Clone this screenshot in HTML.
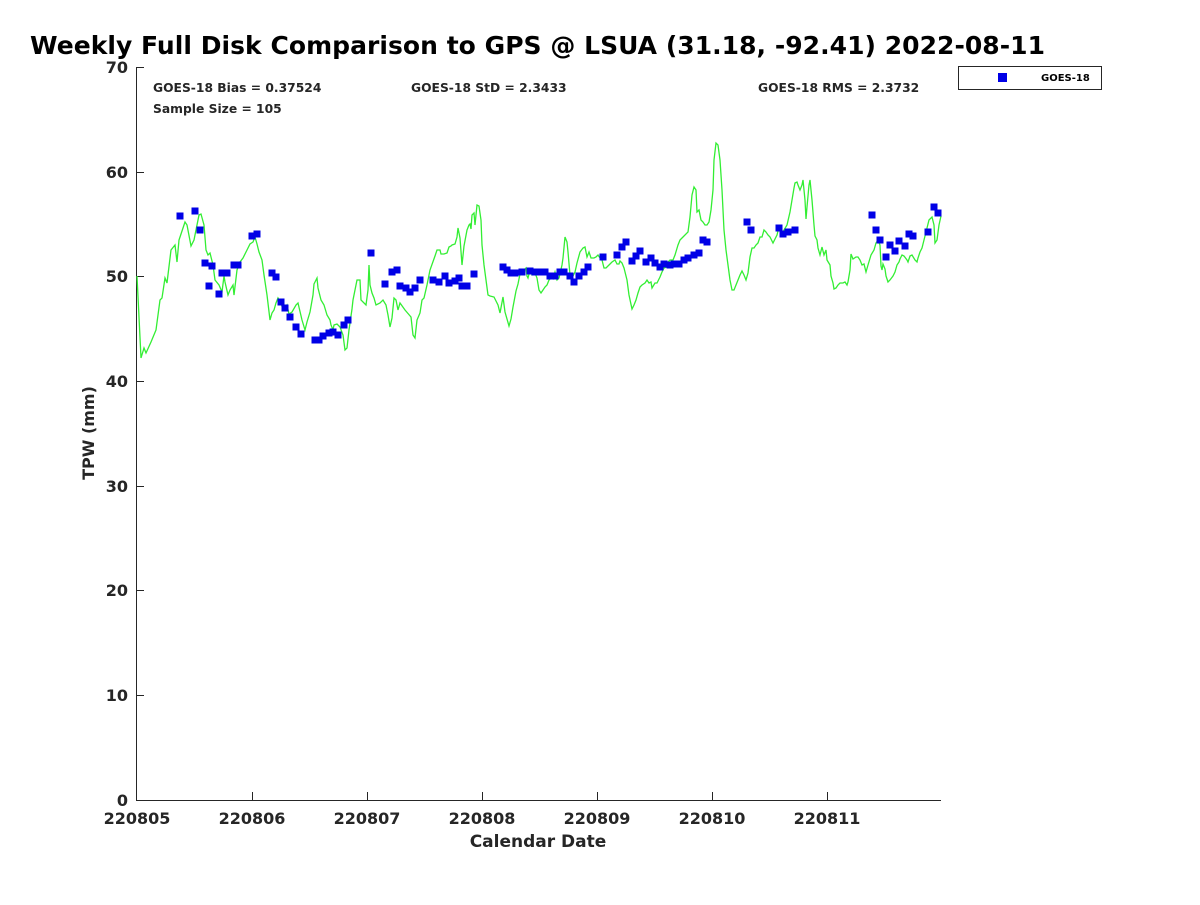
<!DOCTYPE html>
<html><head><meta charset="utf-8"><style>
body{margin:0;background:#fff;}
svg text{font-family:"DejaVu Sans","Liberation Sans",sans-serif;font-weight:bold;fill:#262626;}
</style></head><body>
<svg width="1200" height="900" xmlns="http://www.w3.org/2000/svg">
<rect width="1200" height="900" fill="#fff"/>
<text x="30" y="54" font-size="25" textLength="1015" style="fill:#000">Weekly Full Disk Comparison to GPS @ LSUA (31.18, -92.41) 2022-08-11</text>
<g stroke="#262626" stroke-width="1" fill="none">
<line x1="136.5" y1="67" x2="136.5" y2="800"/>
<line x1="136" y1="800.5" x2="941" y2="800.5"/>
<g>
<line x1="136" y1="67.5" x2="144" y2="67.5"/><line x1="136" y1="172.5" x2="144" y2="172.5"/><line x1="136" y1="276.5" x2="144" y2="276.5"/><line x1="136" y1="381.5" x2="144" y2="381.5"/><line x1="136" y1="486.5" x2="144" y2="486.5"/><line x1="136" y1="590.5" x2="144" y2="590.5"/><line x1="136" y1="695.5" x2="144" y2="695.5"/>
<line x1="252.5" y1="800" x2="252.5" y2="792"/><line x1="367.5" y1="800" x2="367.5" y2="792"/><line x1="482.5" y1="800" x2="482.5" y2="792"/><line x1="597.5" y1="800" x2="597.5" y2="792"/><line x1="712.5" y1="800" x2="712.5" y2="792"/><line x1="827.5" y1="800" x2="827.5" y2="792"/>
</g></g>
<g font-size="16" text-anchor="end">
<text x="128" y="73">70</text><text x="128" y="178">60</text><text x="128" y="282">50</text><text x="128" y="387">40</text><text x="128" y="492">30</text><text x="128" y="596">20</text><text x="128" y="701">10</text><text x="128" y="806">0</text>
</g>
<g font-size="16" text-anchor="middle">
<text x="137" y="824">220805</text><text x="252" y="824">220806</text><text x="367" y="824">220807</text><text x="482" y="824">220808</text><text x="597" y="824">220809</text><text x="712" y="824">220810</text><text x="827" y="824">220811</text>
<text x="538" y="847" font-size="17">Calendar Date</text>
</g>
<text transform="translate(94,433) rotate(-90)" font-size="16" text-anchor="middle">TPW (mm)</text>
<g font-size="12.3" style="fill:#000">
<text x="153" y="92">GOES-18 Bias = 0.37524</text>
<text x="153" y="113">Sample Size = 105</text>
<text x="411" y="92">GOES-18 StD = 2.3433</text>
<text x="758" y="92">GOES-18 RMS = 2.3732</text>
</g>
<rect x="958.5" y="66.5" width="143" height="23" fill="#fff" stroke="#262626"/>
<rect x="998" y="73" width="9" height="9" fill="#0000e6"/>
<text x="1041" y="81" font-size="10" style="fill:#000">GOES-18</text>
<polyline fill="none" stroke="#33ee33" stroke-width="1.3" points="137,276 141,358 144,348 146,353 151,342 156,330 160,300 162,298 165,278 167,283 171,250 175,245 177,262 179,240 185,222 187,225 191,246 194,240 199,215 201,214 204,225 206,250 208,255 210,253 213,265 215,280 219,285 222,292 224,276 225,282 228,295 230,290 233,285 234,295 237,270 240,262 243,258 247,250 250,244 253,242 255,237 257,244 259,252 262,260 264,275 267,295 270,320 272,313 274,310 276,303 278,298 281,303 283,310 285,308 287,305 289,314 292,312 296,305 298,303 302,320 305,330 307,322 310,312 313,295 314,284 317,278 318,288 321,300 324,305 327,315 330,320 331,325 333,330 334,325 337,324 340,327 343,335 345,350 347,348 349,330 352,309 353,300 357,280 360,280 361,300 366,305 368,290 369,265 370,285 372,293 374,298 376,305 380,303 383,300 386,305 388,315 390,327 392,318 394,298 396,300 398,310 400,303 405,310 411,317 413,335 415,338 417,320 420,313 422,300 424,298 427,285 430,270 435,256 437,250 440,250 441,254 444,254 447,253 449,247 451,246 452,245 455,244 457,237 458,228 460,238 462,265 464,246 467,230 469,225 470,224 471,229 472,215 474,213 475,225 477,205 479,206 481,220 482,245 484,265 486,280 488,295 490,296 494,297 496,301 498,305 500,313 503,297 505,312 509,326 511,319 513,307 516,291 518,284 520,274 522,271 524,270 526,268 527,276 528,278 530,270 532,275 535,273 537,278 539,290 541,293 543,290 545,287 547,285 549,280 551,278 553,279 555,272 557,280 559,278 562,265 563,258 565,237 567,242 568,252 570,275 572,278 575,272 577,263 580,252 583,248 585,247 587,257 589,252 591,258 594,258 596,257 598,255 600,258 602,260 604,268 606,268 609,265 612,262 615,260 617,264 619,264 620,261 622,263 624,268 627,280 629,295 632,309 634,305 636,300 638,293 640,287 642,285 645,283 647,280 649,283 651,282 652,288 655,283 657,283 660,277 662,272 664,268 667,267 668,262 670,260 673,260 675,255 678,245 680,240 683,237 688,232 690,217 692,195 694,187 696,190 697,212 699,210 701,220 703,222 705,225 707,225 709,222 711,210 713,190 714,160 716,143 718,145 720,160 722,190 724,230 726,250 728,265 730,280 732,290 734,290 736,285 738,280 740,275 742,271 744,275 746,280 748,273 750,257 752,248 754,248 756,245 758,243 760,237 762,237 764,230 766,232 768,235 770,237 773,243 775,239 777,235 778,231 780,228 782,235 784,230 787,225 790,212 792,200 794,188 795,183 797,182 798,185 800,190 802,185 803,180 805,200 806,219 807,207 809,185 810,180 812,200 814,225 815,236 817,240 818,248 820,255 822,247 824,255 826,250 827,260 830,265 831,276 833,283 834,289 836,288 838,285 840,283 843,283 845,282 847,285 848,282 850,270 851,254 853,259 856,257 858,257 860,260 862,265 864,264 866,272 868,265 871,255 874,250 876,243 878,240 880,245 881,266 882,270 883,264 885,269 886,276 888,282 890,280 893,276 895,272 897,265 899,262 900,259 902,255 904,256 907,260 908,262 910,256 912,255 915,260 917,262 918,258 920,252 922,248 924,240 926,232 927,228 929,220 932,217 934,225 935,243 937,240 939,225 941,216"/>
<g fill="#0000e6">
<rect x="176.5" y="212.5" width="7" height="7"/><rect x="191.5" y="207.5" width="7" height="7"/><rect x="196.5" y="226.5" width="7" height="7"/><rect x="201.5" y="259.5" width="7" height="7"/><rect x="205.5" y="282.5" width="7" height="7"/><rect x="208.5" y="262.5" width="7" height="7"/><rect x="215.5" y="290.5" width="7" height="7"/><rect x="218.5" y="269.5" width="7" height="7"/><rect x="223.5" y="269.5" width="7" height="7"/><rect x="230.5" y="261.5" width="7" height="7"/><rect x="234.5" y="261.5" width="7" height="7"/><rect x="248.5" y="232.5" width="7" height="7"/><rect x="253.5" y="230.5" width="7" height="7"/><rect x="268.5" y="269.5" width="7" height="7"/><rect x="272.5" y="273.5" width="7" height="7"/><rect x="277.5" y="298.5" width="7" height="7"/><rect x="281.5" y="304.5" width="7" height="7"/><rect x="286.5" y="313.5" width="7" height="7"/><rect x="292.5" y="323.5" width="7" height="7"/><rect x="297.5" y="330.5" width="7" height="7"/><rect x="311.5" y="336.5" width="7" height="7"/><rect x="315.5" y="336.5" width="7" height="7"/><rect x="319.5" y="332.5" width="7" height="7"/><rect x="325.5" y="329.5" width="7" height="7"/><rect x="329.5" y="328.5" width="7" height="7"/><rect x="334.5" y="331.5" width="7" height="7"/><rect x="340.5" y="321.5" width="7" height="7"/><rect x="344.5" y="316.5" width="7" height="7"/><rect x="367.5" y="249.5" width="7" height="7"/><rect x="381.5" y="280.5" width="7" height="7"/><rect x="388.5" y="268.5" width="7" height="7"/><rect x="393.5" y="266.5" width="7" height="7"/><rect x="396.5" y="282.5" width="7" height="7"/><rect x="402.5" y="284.5" width="7" height="7"/><rect x="406.5" y="288.5" width="7" height="7"/><rect x="411.5" y="284.5" width="7" height="7"/><rect x="416.5" y="276.5" width="7" height="7"/><rect x="429.5" y="276.5" width="7" height="7"/><rect x="435.5" y="278.5" width="7" height="7"/><rect x="441.5" y="272.5" width="7" height="7"/><rect x="445.5" y="279.5" width="7" height="7"/><rect x="451.5" y="277.5" width="7" height="7"/><rect x="455.5" y="274.5" width="7" height="7"/><rect x="458.5" y="282.5" width="7" height="7"/><rect x="463.5" y="282.5" width="7" height="7"/><rect x="470.5" y="270.5" width="7" height="7"/><rect x="499.5" y="263.5" width="7" height="7"/><rect x="503.5" y="266.5" width="7" height="7"/><rect x="507.5" y="269.5" width="7" height="7"/><rect x="511.5" y="269.5" width="7" height="7"/><rect x="518.5" y="268.5" width="7" height="7"/><rect x="526.5" y="267.5" width="7" height="7"/><rect x="531.5" y="268.5" width="7" height="7"/><rect x="536.5" y="268.5" width="7" height="7"/><rect x="541.5" y="268.5" width="7" height="7"/><rect x="546.5" y="272.5" width="7" height="7"/><rect x="551.5" y="272.5" width="7" height="7"/><rect x="556.5" y="268.5" width="7" height="7"/><rect x="560.5" y="268.5" width="7" height="7"/><rect x="566.5" y="272.5" width="7" height="7"/><rect x="570.5" y="278.5" width="7" height="7"/><rect x="575.5" y="272.5" width="7" height="7"/><rect x="580.5" y="268.5" width="7" height="7"/><rect x="584.5" y="263.5" width="7" height="7"/><rect x="599.5" y="253.5" width="7" height="7"/><rect x="613.5" y="251.5" width="7" height="7"/><rect x="618.5" y="243.5" width="7" height="7"/><rect x="622.5" y="238.5" width="7" height="7"/><rect x="628.5" y="257.5" width="7" height="7"/><rect x="632.5" y="252.5" width="7" height="7"/><rect x="636.5" y="247.5" width="7" height="7"/><rect x="642.5" y="258.5" width="7" height="7"/><rect x="647.5" y="254.5" width="7" height="7"/><rect x="651.5" y="259.5" width="7" height="7"/><rect x="656.5" y="263.5" width="7" height="7"/><rect x="660.5" y="260.5" width="7" height="7"/><rect x="666.5" y="261.5" width="7" height="7"/><rect x="670.5" y="260.5" width="7" height="7"/><rect x="675.5" y="260.5" width="7" height="7"/><rect x="680.5" y="256.5" width="7" height="7"/><rect x="684.5" y="254.5" width="7" height="7"/><rect x="690.5" y="251.5" width="7" height="7"/><rect x="695.5" y="249.5" width="7" height="7"/><rect x="699.5" y="236.5" width="7" height="7"/><rect x="703.5" y="238.5" width="7" height="7"/><rect x="743.5" y="218.5" width="7" height="7"/><rect x="747.5" y="226.5" width="7" height="7"/><rect x="775.5" y="224.5" width="7" height="7"/><rect x="779.5" y="230.5" width="7" height="7"/><rect x="784.5" y="228.5" width="7" height="7"/><rect x="791.5" y="226.5" width="7" height="7"/><rect x="868.5" y="211.5" width="7" height="7"/><rect x="872.5" y="226.5" width="7" height="7"/><rect x="876.5" y="236.5" width="7" height="7"/><rect x="882.5" y="253.5" width="7" height="7"/><rect x="886.5" y="241.5" width="7" height="7"/><rect x="891.5" y="247.5" width="7" height="7"/><rect x="895.5" y="237.5" width="7" height="7"/><rect x="901.5" y="242.5" width="7" height="7"/><rect x="905.5" y="230.5" width="7" height="7"/><rect x="909.5" y="232.5" width="7" height="7"/><rect x="924.5" y="228.5" width="7" height="7"/><rect x="930.5" y="203.5" width="7" height="7"/><rect x="934.5" y="209.5" width="7" height="7"/>
</g>
</svg>
</body></html>
